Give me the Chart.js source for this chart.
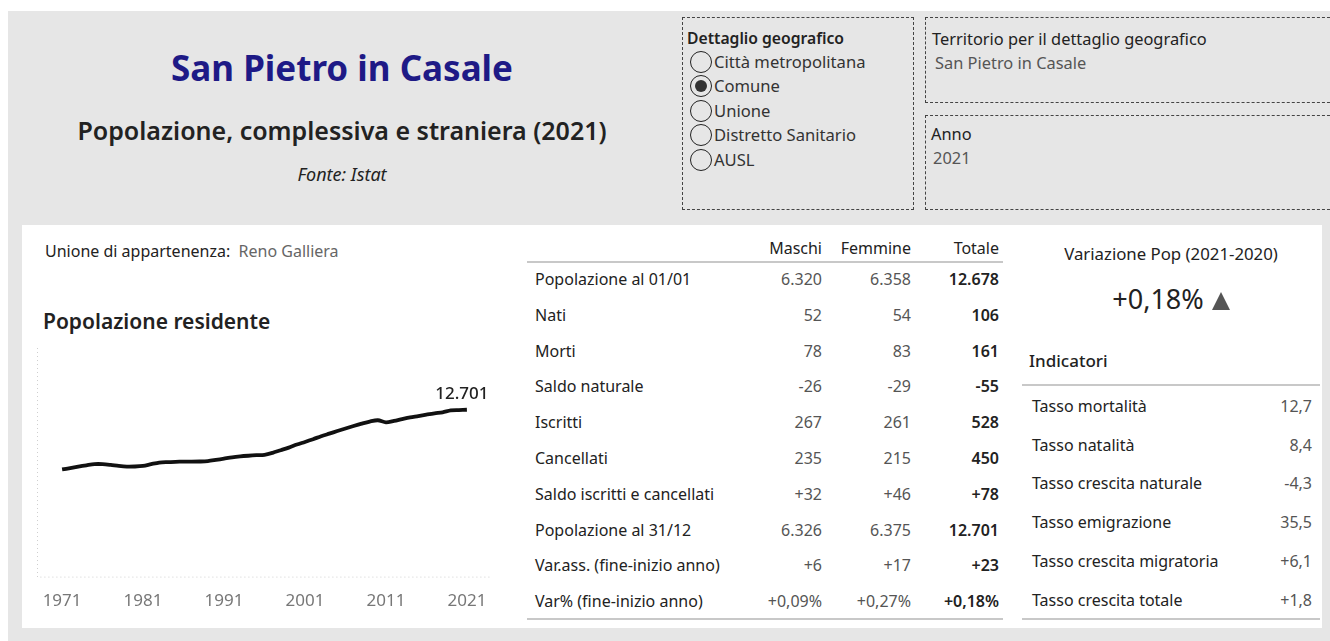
<!DOCTYPE html>
<html>
<head>
<meta charset="utf-8">
<script src="https://cdn.jsdelivr.net/npm/chart.js@4.4.1/dist/chart.umd.min.js"></script>
<style>
  body { margin: 0; width: 1330px; height: 641px; background: #fff; font-family: "Noto Sans", sans-serif; color: #333; overflow: hidden; }
  .abs { position: absolute; white-space: nowrap; }
  #bg { position: absolute; left: 8px; top: 11px; width: 1322px; height: 630px; background: #e6e6e6; }
  #panel { position: absolute; left: 22px; top: 225px; width: 1300px; height: 403px; background: #fff; }
  .box { position: absolute; border: 1.5px dashed #444; box-sizing: border-box; }
  .radio { position: absolute; width: 22px; height: 22px; border: 1.5px solid #222; border-radius: 50%; box-sizing: border-box; background: #e6e6e6; }
  .radio.on::after { content: ""; position: absolute; left: 3.5px; top: 3.5px; width: 12px; height: 12px; border-radius: 50%; background: #333; }
  .lbl { font-size: 16px; color: #222; }
  .val { font-size: 16px; color: #555; text-align: right; }
  .tot { font-size: 16px; color: #222; font-weight: 600; text-align: right; }
  .hr { position: absolute; height: 2px; background: #c8c8c8; }
  .tri { display: inline-block; width: 0; height: 0; border-left: 9px solid transparent; border-right: 9px solid transparent; border-bottom: 18px solid #555; vertical-align: -1px; margin-left: 8px; }
</style>
</head>
<body>
<div id="bg"></div>

<!-- header -->
<div class="abs" style="left:0;width:684px;top:44px;text-align:center;font-size:35px;font-weight:700;color:#1e1a86;">San Pietro in Casale</div>
<div class="abs" style="left:0;width:684px;top:113px;text-align:center;font-size:25px;font-weight:600;color:#222;">Popolazione, complessiva e straniera (2021)</div>
<div class="abs" style="left:0;width:684px;top:162px;text-align:center;font-size:18px;font-style:italic;color:#222;">Fonte: Istat</div>

<!-- filters -->
<div class="box" style="left:682px;top:17px;width:232px;height:193px;"></div>
<div class="abs" style="left:687px;top:27px;font-size:15.7px;font-weight:600;color:#222;">Dettaglio geografico</div>
<div id="radios"></div>

<div class="box" style="left:925px;top:17px;width:410px;height:86px;"></div>
<div class="abs" style="left:932px;top:27px;font-size:16.4px;color:#222;">Territorio per il dettaglio geografico</div>
<div class="abs" style="left:935px;top:51px;font-size:16.4px;color:#555;">San Pietro in Casale</div>

<div class="box" style="left:925px;top:115px;width:410px;height:95px;"></div>
<div class="abs" style="left:931px;top:122px;font-size:16.4px;color:#222;">Anno</div>
<div class="abs" style="left:933px;top:146px;font-size:16.4px;color:#555;">2021</div>

<div id="panel"></div>

<!-- left block -->
<div class="abs" style="left:45px;top:240px;font-size:16px;color:#222;">Unione di appartenenza:&nbsp; <span style="color:#666;">Reno Galliera</span></div>
<div class="abs" style="left:43px;top:307px;font-size:21px;font-weight:600;color:#222;">Popolazione residente</div>
<div class="abs" style="left:20px;top:335px;width:490px;height:288px;"><canvas id="popChart"></canvas></div>

<!-- table -->
<div id="table"></div>

<!-- right block -->
<div class="abs" style="left:1014px;width:314px;top:242px;text-align:center;font-size:16.8px;color:#222;">Variazione Pop (2021-2020)</div>
<div class="abs" style="left:1014px;width:314px;top:280px;text-align:center;font-size:27px;color:#222;">+0,18%<span class="tri"></span></div>
<div class="abs" style="left:1029px;top:349px;font-size:17px;font-weight:500;color:#222;">Indicatori</div>
<div id="indic"></div>

<script>
// population series
const years = [1971, 1972, 1973, 1974, 1975, 1976, 1977, 1978, 1979, 1980,
  1981, 1982, 1983, 1984, 1985, 1986, 1987, 1988, 1989, 1990,
  1991, 1992, 1993, 1994, 1995, 1996, 1997, 1998, 1999, 2000,
  2001, 2002, 2003, 2004, 2005, 2006, 2007, 2008, 2009, 2010,
  2011, 2012, 2013, 2014, 2015, 2016, 2017, 2018, 2019, 2020, 2021];
const population = [8155, 8260, 8370, 8470, 8560, 8560, 8500, 8420, 8370, 8380,
  8430, 8560, 8680, 8720, 8740, 8750, 8750, 8760, 8790, 8880,
  8980, 9080, 9150, 9200, 9240, 9270, 9420, 9620, 9820, 10050,
  10250, 10460, 10680, 10880, 11080, 11270, 11460, 11640, 11800, 11900,
  11740, 11850, 11990, 12120, 12220, 12330, 12430, 12500, 12650, 12678, 12701];
const tickYears = [1971, 1981, 1991, 2001, 2011, 2021];

// filters
const geoLevels = ["Città metropolitana", "Comune", "Unione", "Distretto Sanitario", "AUSL"];
const geoSelected = "Comune";

// bilancio demografico
const rowLabels = ["Popolazione al 01/01", "Nati", "Morti", "Saldo naturale", "Iscritti", "Cancellati",
  "Saldo iscritti e cancellati", "Popolazione al 31/12", "Var.ass. (fine-inizio anno)", "Var% (fine-inizio anno)"];
const maschi = ["6.320", "52", "78", "-26", "267", "235", "+32", "6.326", "+6", "+0,09%"];
const femmine = ["6.358", "54", "83", "-29", "261", "215", "+46", "6.375", "+17", "+0,27%"];
const totale = ["12.678", "106", "161", "-55", "528", "450", "+78", "12.701", "+23", "+0,18%"];

// indicatori
const indLabels = ["Tasso mortalità", "Tasso natalità", "Tasso crescita naturale", "Tasso emigrazione", "Tasso crescita migratoria", "Tasso crescita totale"];
const indValues = ["12,7", "8,4", "-4,3", "35,5", "+6,1", "+1,8"];

function addDiv(parent, cls, style, text) {
  const d = document.createElement("div");
  d.className = "abs " + cls;
  d.style.cssText = style;
  d.textContent = text;
  parent.appendChild(d);
  return d;
}

const radios = document.getElementById("radios");
geoLevels.forEach((g, i) => {
  const y = 51 + i * 24.4;
  const r = document.createElement("div");
  r.className = "radio" + (g === geoSelected ? " on" : "");
  r.style.left = "690px";
  r.style.top = y + "px";
  radios.appendChild(r);
  addDiv(radios, "", `left:714px;top:${y - 1}px;font-size:16.6px;color:#333;`, g);
});

const table = document.getElementById("table");
addDiv(table, "lbl", "left:700px;width:122px;top:237px;text-align:right;", "Maschi");
addDiv(table, "lbl", "left:800px;width:111px;top:237px;text-align:right;", "Femmine");
addDiv(table, "lbl", "left:900px;width:99px;top:237px;text-align:right;", "Totale");
const h1 = document.createElement("div"); h1.className = "hr";
h1.style.cssText += "left:527px;top:261px;width:476px;"; table.appendChild(h1);
rowLabels.forEach((lab, i) => {
  const y = 268 + i * 35.8;
  addDiv(table, "lbl", `left:535px;top:${y}px;`, lab);
  addDiv(table, "val", `left:700px;width:122px;top:${y}px;`, maschi[i]);
  addDiv(table, "val", `left:800px;width:111px;top:${y}px;`, femmine[i]);
  addDiv(table, "tot", `left:880px;width:119px;top:${y}px;`, totale[i]);
});
const h2 = document.createElement("div"); h2.className = "hr";
h2.style.cssText += "left:527px;top:618px;width:476px;"; table.appendChild(h2);

const indic = document.getElementById("indic");
const h3 = document.createElement("div"); h3.className = "hr";
h3.style.cssText += "left:1022px;top:384px;width:298px;"; indic.appendChild(h3);
indLabels.forEach((lab, i) => {
  const y = 395 + i * 38.7;
  addDiv(indic, "lbl", `left:1032px;top:${y}px;`, lab);
  addDiv(indic, "val", `left:1200px;width:112px;top:${y}px;`, indValues[i]);
});
const h4 = document.createElement("div"); h4.className = "hr";
h4.style.cssText += "left:1022px;top:618px;width:298px;"; indic.appendChild(h4);

// dotted axis lines along the plot edges
const dottedAxes = {
  id: "dottedAxes",
  beforeDatasetsDraw(chart) {
    const { ctx, chartArea } = chart;
    ctx.save();
    ctx.strokeStyle = "#cfcfcf";
    ctx.lineWidth = 1;
    ctx.setLineDash([1, 3]);
    ctx.beginPath();
    ctx.moveTo(chartArea.left + 0.5, chartArea.top);
    ctx.lineTo(chartArea.left + 0.5, chartArea.bottom + 0.5);
    ctx.lineTo(chartArea.right, chartArea.bottom + 0.5);
    ctx.stroke();
    ctx.restore();
  }
};

// label for last value
const lastLabel = {
  id: "lastLabel",
  afterDatasetsDraw(chart) {
    const ctx = chart.ctx;
    const meta = chart.getDatasetMeta(0);
    const pt = meta.data[meta.data.length - 1];
    ctx.save();
    ctx.font = "500 17px 'Noto Sans'";
    ctx.fillStyle = "#222";
    ctx.textAlign = "center";
    ctx.textBaseline = "bottom";
    ctx.fillText(population[population.length - 1].toLocaleString("it-IT"), pt.x - 5, pt.y - 7);
    ctx.restore();
  }
};

const ctx = document.getElementById("popChart").getContext("2d");
new Chart(ctx, {
  type: "line",
  data: {
    datasets: [{
      data: years.map((y, i) => ({ x: y, y: population[i] })),
      borderColor: "#111",
      borderWidth: 3.8,
      pointRadius: 0,
      tension: 0.3
    }]
  },
  options: {
    responsive: true,
    maintainAspectRatio: false,
    animation: false,
    layout: { padding: { left: 17, right: 18, top: 13, bottom: 6 } },
    plugins: { legend: { display: false }, tooltip: { enabled: false } },
    scales: {
      x: {
        type: "linear",
        min: 1967.9,
        max: 2024.1,
        afterBuildTicks: (axis) => { axis.ticks = tickYears.map(v => ({ value: v })); },
        grid: { display: false },
        border: { display: false },
        ticks: { color: "#777", font: { size: 17, family: "Noto Sans" }, padding: 6, maxRotation: 0, callback: v => String(v) }
      },
      y: {
        min: 0,
        max: 17400,
        grid: { display: false, drawTicks: false },
        border: { display: false },
        ticks: { display: false }
      }
    }
  },
  plugins: [dottedAxes, lastLabel]
});
</script>
</body>
</html>
